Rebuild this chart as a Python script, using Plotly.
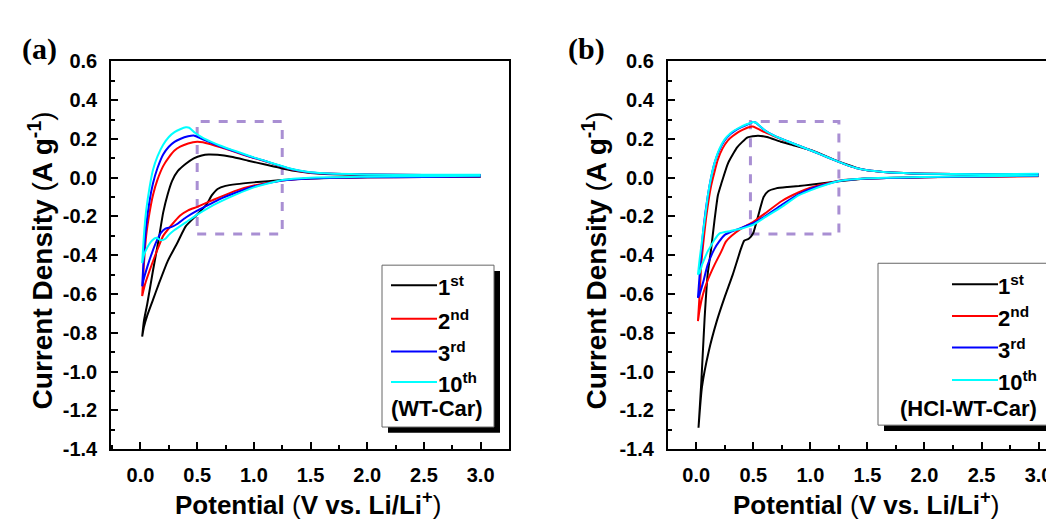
import plotly.graph_objects as go

# ---------------------------------------------------------------
# Panel (a): WT-Car  (potential V, current density A/g)
# ---------------------------------------------------------------
wt_1st_cath_v = [3.0, 2.5, 2.0, 1.5, 1.25, 1.0, 0.85, 0.75, 0.68, 0.63, 0.58, 0.5, 0.4, 0.33, 0.24, 0.16, 0.11, 0.06, 0.03, 0.015]
wt_1st_cath_i = [0.005, 0.004, 0.002, -0.004, -0.012, -0.024, -0.033, -0.042, -0.058, -0.09, -0.14, -0.19, -0.25, -0.33, -0.43, -0.55, -0.63, -0.71, -0.77, -0.82]
wt_1st_anod_v = [0.015, 0.03, 0.06, 0.11, 0.16, 0.2, 0.24, 0.28, 0.33, 0.4, 0.47, 0.54, 0.6, 0.68, 0.8, 0.95, 1.1, 1.25, 1.4, 1.6, 2.0, 2.5, 3.0]
wt_1st_anod_i = [-0.82, -0.74, -0.65, -0.48, -0.32, -0.18, -0.085, -0.015, 0.035, 0.072, 0.1, 0.115, 0.12, 0.118, 0.108, 0.088, 0.068, 0.048, 0.032, 0.02, 0.014, 0.012, 0.012]

wt_2nd_cath_v = [3.0, 2.5, 2.0, 1.5, 1.25, 1.0, 0.85, 0.7, 0.6, 0.5, 0.42, 0.35, 0.28, 0.2, 0.13, 0.08, 0.04, 0.015]
wt_2nd_cath_i = [0.006, 0.004, 0.002, -0.003, -0.015, -0.04, -0.065, -0.1, -0.125, -0.15, -0.168, -0.195, -0.24, -0.3, -0.4, -0.48, -0.55, -0.61]
wt_2nd_anod_v = [0.015, 0.03, 0.05, 0.08, 0.11, 0.15, 0.2, 0.25, 0.3, 0.35, 0.42, 0.5, 0.55, 0.62, 0.7, 0.8, 0.9, 1.0, 1.1, 1.2, 1.3, 1.4, 1.5, 1.7, 2.0, 2.5, 3.0]
wt_2nd_anod_i = [-0.61, -0.45, -0.3, -0.18, -0.09, -0.01, 0.06, 0.105, 0.14, 0.16, 0.177, 0.186, 0.183, 0.172, 0.158, 0.14, 0.12, 0.102, 0.085, 0.066, 0.048, 0.035, 0.026, 0.02, 0.016, 0.014, 0.014]

wt_3rd_cath_v = [3.0, 2.5, 2.0, 1.5, 1.25, 1.0, 0.85, 0.7, 0.6, 0.5, 0.4, 0.32, 0.27, 0.22, 0.18, 0.14, 0.1, 0.06, 0.03, 0.015]
wt_3rd_cath_i = [0.006, 0.004, 0.002, -0.004, -0.015, -0.045, -0.075, -0.11, -0.14, -0.17, -0.205, -0.24, -0.255, -0.262, -0.285, -0.33, -0.39, -0.46, -0.52, -0.56]
wt_3rd_anod_v = [0.015, 0.03, 0.05, 0.08, 0.11, 0.15, 0.2, 0.25, 0.3, 0.35, 0.42, 0.47, 0.52, 0.6, 0.7, 0.8, 0.9, 1.0, 1.1, 1.2, 1.3, 1.4, 1.5, 1.7, 2.0, 2.5, 3.0]
wt_3rd_anod_i = [-0.56, -0.4, -0.25, -0.12, -0.03, 0.05, 0.12, 0.16, 0.185, 0.2, 0.214, 0.218, 0.206, 0.186, 0.162, 0.142, 0.122, 0.103, 0.086, 0.067, 0.049, 0.036, 0.027, 0.02, 0.016, 0.014, 0.014]

wt_10th_cath_v = [3.0, 2.5, 2.0, 1.5, 1.25, 1.0, 0.85, 0.7, 0.6, 0.5, 0.4, 0.3, 0.25, 0.22, 0.18, 0.14, 0.1, 0.06, 0.03, 0.015]
wt_10th_cath_i = [0.01, 0.008, 0.005, 0.0, -0.012, -0.05, -0.085, -0.125, -0.155, -0.19, -0.23, -0.27, -0.295, -0.315, -0.322, -0.31, -0.325, -0.36, -0.4, -0.44]
wt_10th_anod_v = [0.015, 0.03, 0.05, 0.08, 0.11, 0.15, 0.2, 0.25, 0.3, 0.35, 0.4, 0.43, 0.48, 0.55, 0.62, 0.7, 0.8, 0.9, 1.0, 1.1, 1.2, 1.3, 1.4, 1.5, 1.7, 2.0, 2.5, 3.0]
wt_10th_anod_i = [-0.44, -0.3, -0.17, -0.05, 0.04, 0.11, 0.17, 0.21, 0.235, 0.25, 0.26, 0.258, 0.232, 0.206, 0.186, 0.166, 0.145, 0.125, 0.105, 0.087, 0.068, 0.05, 0.037, 0.028, 0.021, 0.017, 0.015, 0.015]

# ---------------------------------------------------------------
# Panel (b): HCl-WT-Car
# ---------------------------------------------------------------
hcl_1st_cath_v = [3.0, 2.5, 2.0, 1.5, 1.25, 1.0, 0.9, 0.8, 0.7, 0.63, 0.59, 0.555, 0.525, 0.5, 0.46, 0.42, 0.39, 0.32, 0.25, 0.18, 0.11, 0.05, 0.02]
hcl_1st_cath_i = [0.01, 0.006, 0.003, -0.004, -0.018, -0.036, -0.043, -0.048, -0.055, -0.07, -0.1, -0.17, -0.235, -0.285, -0.315, -0.325, -0.37, -0.5, -0.615, -0.74, -0.895, -1.08, -1.29]
hcl_1st_anod_v = [0.02, 0.044, 0.073, 0.1, 0.13, 0.16, 0.19, 0.22, 0.28, 0.36, 0.45, 0.54, 0.62, 0.74, 0.85, 1.0, 1.1, 1.2, 1.3, 1.4, 1.5, 1.7, 2.0, 2.5, 3.0]
hcl_1st_anod_i = [-1.29, -1.06, -0.73, -0.5, -0.37, -0.22, -0.09, -0.03, 0.077, 0.158, 0.208, 0.217, 0.21, 0.186, 0.168, 0.143, 0.12, 0.095, 0.072, 0.052, 0.038, 0.027, 0.021, 0.018, 0.016]

hcl_2nd_cath_v = [3.0, 2.5, 2.0, 1.5, 1.25, 1.0, 0.9, 0.75, 0.6, 0.5, 0.4, 0.31, 0.26, 0.22, 0.16, 0.1, 0.06, 0.03, 0.015]
hcl_2nd_cath_i = [0.008, 0.005, 0.002, -0.004, -0.015, -0.052, -0.075, -0.12, -0.185, -0.228, -0.26, -0.3, -0.33, -0.38, -0.45, -0.53, -0.6, -0.68, -0.74]
hcl_2nd_anod_v = [0.015, 0.03, 0.044, 0.065, 0.088, 0.11, 0.131, 0.16, 0.19, 0.23, 0.278, 0.32, 0.365, 0.41, 0.453, 0.497, 0.541, 0.6, 0.7, 0.8, 0.9, 1.0, 1.1, 1.2, 1.3, 1.4, 1.5, 1.7, 2.0, 2.5, 3.0]
hcl_2nd_anod_i = [-0.74, -0.6, -0.45, -0.32, -0.2, -0.11, -0.04, 0.03, 0.094, 0.15, 0.193, 0.215, 0.234, 0.248, 0.259, 0.264, 0.252, 0.235, 0.21, 0.187, 0.165, 0.142, 0.118, 0.093, 0.07, 0.05, 0.038, 0.027, 0.021, 0.018, 0.017]

hcl_3rd_cath_v = [3.0, 2.5, 2.0, 1.5, 1.25, 1.0, 0.9, 0.75, 0.6, 0.5, 0.4, 0.3, 0.25, 0.2, 0.16, 0.1, 0.06, 0.03, 0.015]
hcl_3rd_cath_i = [0.01, 0.006, 0.003, -0.004, -0.017, -0.058, -0.085, -0.14, -0.2, -0.235, -0.258, -0.28, -0.295, -0.33, -0.367, -0.45, -0.54, -0.6, -0.62]
hcl_3rd_anod_v = [0.015, 0.03, 0.045, 0.06, 0.08, 0.103, 0.13, 0.161, 0.2, 0.249, 0.3, 0.337, 0.4, 0.453, 0.497, 0.52, 0.541, 0.6, 0.7, 0.8, 0.9, 1.0, 1.1, 1.2, 1.3, 1.4, 1.5, 1.7, 2.0, 2.5, 3.0]
hcl_3rd_anod_i = [-0.62, -0.5, -0.38, -0.28, -0.18, -0.087, 0.0, 0.077, 0.14, 0.193, 0.225, 0.242, 0.262, 0.276, 0.287, 0.285, 0.275, 0.245, 0.212, 0.188, 0.165, 0.142, 0.118, 0.093, 0.07, 0.05, 0.038, 0.027, 0.021, 0.018, 0.018]

hcl_10th_cath_v = [3.0, 2.5, 2.0, 1.5, 1.25, 1.0, 0.9, 0.75, 0.6, 0.5, 0.4, 0.3, 0.205, 0.16, 0.13, 0.1, 0.073, 0.05, 0.03, 0.015]
hcl_10th_cath_i = [0.012, 0.008, 0.004, -0.003, -0.017, -0.065, -0.09, -0.15, -0.205, -0.242, -0.262, -0.275, -0.287, -0.32, -0.35, -0.38, -0.417, -0.45, -0.49, -0.5]
hcl_10th_anod_v = [0.015, 0.03, 0.045, 0.059, 0.08, 0.103, 0.13, 0.161, 0.2, 0.249, 0.3, 0.337, 0.4, 0.453, 0.497, 0.52, 0.541, 0.6, 0.7, 0.8, 0.9, 1.0, 1.1, 1.2, 1.3, 1.4, 1.5, 1.7, 2.0, 2.5, 3.0]
hcl_10th_anod_i = [-0.5, -0.42, -0.35, -0.285, -0.19, -0.087, 0.0, 0.077, 0.145, 0.198, 0.23, 0.245, 0.265, 0.278, 0.288, 0.285, 0.276, 0.245, 0.212, 0.188, 0.165, 0.142, 0.118, 0.093, 0.07, 0.05, 0.038, 0.027, 0.021, 0.018, 0.02]

cycle_names = ["1<sup>st</sup>", "2<sup>nd</sup>", "3<sup>rd</sup>", "10<sup>th</sup>"]
cycle_colors = ["#000000", "#ff0000", "#0000ff", "#00ffff"]

x_tickvals = [0.0, 0.5, 1.0, 1.5, 2.0, 2.5, 3.0]
x_ticktext = ["0.0", "0.5", "1.0", "1.5", "2.0", "2.5", "3.0"]
y_tickvals = [-1.4, -1.2, -1.0, -0.8, -0.6, -0.4, -0.2, 0.0, 0.2, 0.4, 0.6]
y_ticktext = ["-1.4", "-1.2", "-1.0", "-0.8", "-0.6", "-0.4", "-0.2", "0.0", "0.2", "0.4", "0.6"]

W, H = 1054, 522
FONT = "Liberation Sans, Arial, sans-serif"


def px(x):
    return x / W


def py(y):
    return 1 - y / H


fig = go.Figure()

panels = [
    ("x", "y", [
        (wt_1st_cath_v, wt_1st_cath_i, wt_1st_anod_v, wt_1st_anod_i),
        (wt_2nd_cath_v, wt_2nd_cath_i, wt_2nd_anod_v, wt_2nd_anod_i),
        (wt_3rd_cath_v, wt_3rd_cath_i, wt_3rd_anod_v, wt_3rd_anod_i),
        (wt_10th_cath_v, wt_10th_cath_i, wt_10th_anod_v, wt_10th_anod_i),
    ]),
    ("x2", "y2", [
        (hcl_1st_cath_v, hcl_1st_cath_i, hcl_1st_anod_v, hcl_1st_anod_i),
        (hcl_2nd_cath_v, hcl_2nd_cath_i, hcl_2nd_anod_v, hcl_2nd_anod_i),
        (hcl_3rd_cath_v, hcl_3rd_cath_i, hcl_3rd_anod_v, hcl_3rd_anod_i),
        (hcl_10th_cath_v, hcl_10th_cath_i, hcl_10th_anod_v, hcl_10th_anod_i),
    ]),
]

for xa, ya, cycles in panels:
    for k, (cv, ci, av, ai) in enumerate(cycles):
        fig.add_trace(
            go.Scatter(
                x=cv + av,
                y=ci + ai,
                mode="lines",
                line=dict(color=cycle_colors[k], width=2, shape="spline", smoothing=0.5),
                name=cycle_names[k],
                showlegend=False,
                xaxis=xa,
                yaxis=ya,
            )
        )

axis_common = dict(
    showline=True,
    linecolor="black",
    linewidth=1.6,
    ticks="inside",
    ticklen=7,
    tickwidth=1.5,
    tickcolor="black",
    showgrid=False,
    zeroline=False,
    tickfont=dict(family=FONT, size=20, color="black", weight="bold"),
)

fig.update_layout(
    width=W,
    height=H,
    margin=dict(l=0, r=0, t=0, b=0),
    paper_bgcolor="white",
    plot_bgcolor="white",
    showlegend=False,
    xaxis=dict(
        axis_common, domain=[px(103), px(501)], range=[-0.26, 3.25], anchor="y", mirror=True,
        tickmode="array", tickvals=x_tickvals, ticktext=x_ticktext, ticklabelstandoff=7,
        minor=dict(ticks="inside", ticklen=4, tickwidth=1.5, tickcolor="black", tickmode="linear", tick0=0, dtick=0.25),
    ),
    yaxis=dict(
        axis_common, domain=[py(449), py(44.3)], range=[-1.4, 0.6], anchor="x", mirror=True,
        tickmode="array", tickvals=y_tickvals, ticktext=y_ticktext, ticklabelstandoff=8,
        minor=dict(ticks="inside", ticklen=4, tickwidth=1.5, tickcolor="black", tickmode="linear", tick0=0, dtick=0.1),
    ),
    xaxis2=dict(
        axis_common, domain=[px(659.7), 1.0], range=[-0.25, 3.205], anchor="y2", mirror=True,
        tickmode="array", tickvals=x_tickvals, ticktext=x_ticktext, ticklabelstandoff=7,
        minor=dict(ticks="inside", ticklen=4, tickwidth=1.5, tickcolor="black", tickmode="linear", tick0=0, dtick=0.25),
    ),
    yaxis2=dict(
        axis_common, domain=[py(449), py(44.3)], range=[-1.4, 0.6], anchor="x2", mirror=False,
        tickmode="array", tickvals=y_tickvals, ticktext=y_ticktext, ticklabelstandoff=8,
        minor=dict(ticks="inside", ticklen=4, tickwidth=1.5, tickcolor="black", tickmode="linear", tick0=0, dtick=0.1),
    ),
)

# dashed boxes marking the zoomed region
fig.add_shape(type="rect", xref="x", yref="y", x0=0.5, x1=1.25, y0=-0.29, y1=0.29,
              line=dict(color="#a98fd3", width=3, dash="dash"), layer="below")
fig.add_shape(type="rect", xref="x2", yref="y2", x0=0.475, x1=1.25, y0=-0.29, y1=0.29,
              line=dict(color="#a98fd3", width=3, dash="dash"), layer="below")

# hand-made legend boxes with drop shadow
legend_boxes = [
    # box x0, x1, y0, y1, line x0, x1, text x, row ys, sample label, label x
    (374, 486, 257, 426, 383, 429, 428, [278, 313, 347, 379], "(WT-Car)", 429),
    (870, 1045, 255, 424, 944, 990, 988, [277, 310, 343, 377], "(HCl-WT-Car)", 960),
]
for bx0, bx1, by0, by1, lx0, lx1, tx, rows, label, lab_x in legend_boxes:
    fig.add_shape(type="rect", xref="paper", yref="paper",
                  x0=px(bx0 + 6), x1=px(min(bx1 + 6, W)), y0=py(by1 + 6), y1=py(by0 + 6),
                  fillcolor="black", line=dict(width=0), layer="above")
    fig.add_shape(type="rect", xref="paper", yref="paper",
                  x0=px(bx0), x1=px(bx1), y0=py(by1), y1=py(by0),
                  fillcolor="white", line=dict(color="#666666", width=1), layer="above")
    for k, ry in enumerate(rows):
        fig.add_shape(type="line", xref="paper", yref="paper",
                      x0=px(lx0), x1=px(lx1), y0=py(ry), y1=py(ry),
                      line=dict(color=cycle_colors[k], width=2), layer="above")
        fig.add_annotation(x=px(tx), y=py(ry + 1), xref="paper", yref="paper",
                           text=cycle_names[k], showarrow=False, xanchor="left", yanchor="middle",
                           font=dict(family=FONT, size=22, color="black", weight="bold"))
    fig.add_annotation(x=px(lab_x), y=py(407), xref="paper", yref="paper",
                       text=label, showarrow=False, xanchor="center", yanchor="middle",
                       font=dict(family=FONT, size=22, color="black", weight="bold"))

# axis titles and panel labels
y_title = "<b>Current Density</b> (<b>A g<sup>-1</sup></b>)"
x_title = "<b>Potential</b> (<b>V vs. Li/Li<sup>+</sup></b>)"
for ytx, xtx, lbx, lbl in [(33, 300, 31, "(a)"), (587, 858, 578, "(b)")]:
    fig.add_annotation(x=px(ytx), y=py(252), xref="paper", yref="paper", text=y_title,
                       textangle=-90, showarrow=False, xanchor="center", yanchor="middle",
                       font=dict(family=FONT, size=28, color="black"))
    fig.add_annotation(x=px(xtx), y=py(506), xref="paper", yref="paper", text=x_title,
                       showarrow=False, xanchor="center", yanchor="middle",
                       font=dict(family=FONT, size=26, color="black"))
    fig.add_annotation(x=px(lbx), y=py(31), xref="paper", yref="paper", text=lbl,
                       showarrow=False, xanchor="center", yanchor="middle",
                       font=dict(family="Liberation Serif, Times New Roman, serif", size=30,
                                 color="black", weight="bold"))

fig.write_html("out.html")
